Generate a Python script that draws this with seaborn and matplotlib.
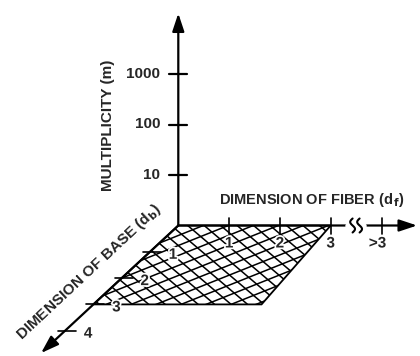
import numpy as np
import pandas as pd
import matplotlib
matplotlib.use("Agg")
import matplotlib.pyplot as plt
import matplotlib.patheffects as pe
import seaborn as sns
from matplotlib.patches import Polygon

sns.set_theme(style="white")
plt.rcParams['font.family'] = ['Liberation Sans', 'DejaVu Sans']

# --- DATA ---
multiplicity_ticks = [10, 100, 1000]
fiber_ticks = [1, 2, 3, 4]
fiber_labels = ["1", "2", "3", ">3"]
base_ticks = [1, 2, 3, 4]
base_labels = ["1", "2", "3", "4"]
# shaded region in (fiber, base) units
region_fiber = [0, 3, 3.31, 0]
region_base = [0, 0, 3, 3]

# --- PSEUDO 3D PROJECTION (pixel space) ---
ORIGIN = np.array([178.3, 225.5])
FIBER_UNIT = np.array([50.8, 0.0])
BASE_UNIT = np.array([-28.3, 26.3])
DECADE = 50.5


def proj(f=0.0, b=0.0, m=1.0):
    p = ORIGIN + f * FIBER_UNIT + b * BASE_UNIT
    return p[0], p[1] - DECADE * np.log10(m)


fig = plt.figure(figsize=(4.2, 3.56), dpi=100)
ax = fig.add_axes([0, 0, 1, 1])
ax.set_xlim(0, 420)
ax.set_ylim(356, 0)
ax.axis("off")

lw_axis = 1.6
fs = 11
halo = [pe.withStroke(linewidth=2.5, foreground="white")]
arrow = dict(arrowstyle="-|>,head_length=0.9,head_width=0.3", color="black", lw=lw_axis,
             shrinkA=0, shrinkB=0)

# hatched region
corners = [proj(f, b) for f, b in zip(region_fiber, region_base)]
poly = Polygon(corners, closed=True, facecolor="white", edgecolor="black", lw=1.3, zorder=1)
ax.add_patch(poly)
xs = np.linspace(60, 360, 2)
for c in np.arange(-400, 400, 14.0):
    # "\" family
    ln, = ax.plot(xs, 0.85 * (xs - ORIGIN[0]) + ORIGIN[1] + c, color="black", lw=1.1, zorder=2)
    ln.set_clip_path(poly)
for c in np.arange(-200, 200, 10.0):
    # "/" family
    ln, = ax.plot(xs, -0.40 * (xs - ORIGIN[0]) + ORIGIN[1] + c, color="black", lw=1.1, zorder=2)
    ln.set_clip_path(poly)

# axes lines
ax.annotate("", xy=proj(m=10 ** 4.2), xytext=proj(), arrowprops=arrow, zorder=4)
ax.annotate("", xy=proj(f=4.7), xytext=proj(), arrowprops=arrow, zorder=4)
ax.annotate("", xy=proj(b=4.85), xytext=proj(), arrowprops=arrow, zorder=4)

# axis break on fiber axis
bx, by = proj(f=3.5)
ax.plot([bx - 8, bx + 8], [by, by], color="white", lw=4, zorder=5)
t = np.linspace(-1, 1, 40)
for dx in (-3.5, 3.5):
    ax.plot(bx + dx + 2.4 * np.sin(t * np.pi), by + 7 * t, color="black", lw=1.5, zorder=6)

# multiplicity ticks
for m in multiplicity_ticks:
    x, y = proj(m=m)
    ax.plot([x - 9, x + 9], [y, y], color="black", lw=lw_axis, zorder=4)
    ax.text(x - 18, y, f"{m}", ha="right", va="center", fontsize=fs, fontweight="bold")

# fiber ticks
for f, lab in zip(fiber_ticks, fiber_labels):
    x, y = proj(f=f)
    ax.plot([x, x], [y - 8, y + 8], color="black", lw=1.2, zorder=4)
    ax.text(x - 4 if lab.startswith(">") else x, y + 18, lab, ha="center", va="center",
            fontsize=fs, fontweight="bold", zorder=7, path_effects=halo)

# base ticks
for b, lab in zip(base_ticks, base_labels):
    x, y = proj(b=b)
    ax.plot([x - 7, x + 11], [y, y], color="black", lw=1.2, zorder=4)
    ax.text(x + 23, y + 3, lab, ha="center", va="center", fontsize=fs, fontweight="bold",
            zorder=7, path_effects=halo)

# axis titles
ax.text(108, 125, "MULTIPLICITY (m)", rotation=90, ha="center", va="center",
        fontsize=fs, fontweight="bold")
ax.text(219, 200, r"DIMENSION OF FIBER (d$_{\,\mathbf{f}}$)", ha="left", va="center",
        fontsize=fs - 0.5, fontweight="bold")
ax.text(89, 272, r"DIMENSION OF BASE (d$_{\mathbf{b}}$)", rotation=43, ha="center", va="center",
        rotation_mode="anchor", fontsize=fs, fontweight="bold")

fig.savefig("out.png", dpi=100, facecolor="white")
